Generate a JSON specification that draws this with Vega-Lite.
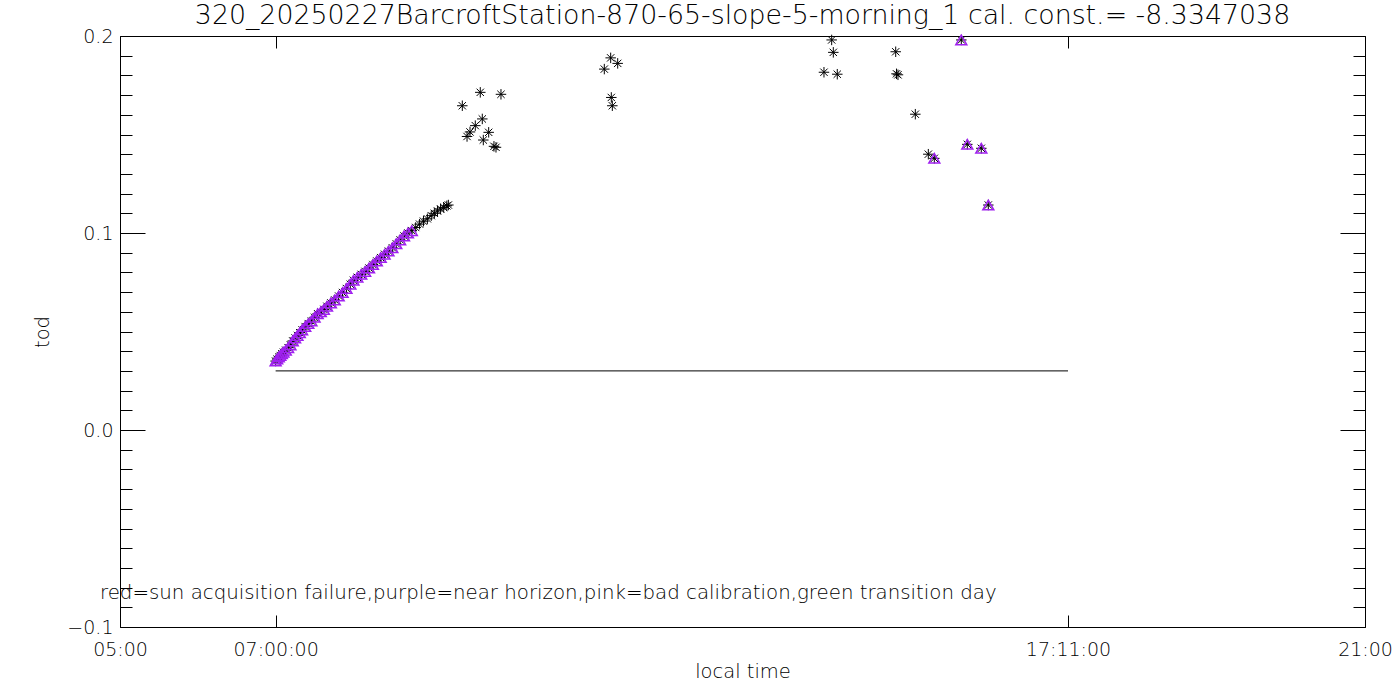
{
  "$schema": "https://vega.github.io/schema/vega-lite/v6.json",
  "width": 1245,
  "height": 591,
  "autosize": {"type": "none"},
  "padding": {"left": 120, "top": 36, "right": 35, "bottom": 73},
  "background": "white",
  "data": {"values": [{}]},
  "config": {
    "view": {"stroke": "black", "strokeWidth": 1},
    "font": "DejaVu Sans",
    "axis": {"domain": false, "grid": false, "tickColor": "black", "tickWidth": 1, "labelColor": "black", "titleColor": "black", "labelFont": "DejaVu Sans", "titleFont": "DejaVu Sans", "labelFontSize": 19, "titleFontSize": 19.5, "titleFontWeight": 200, "labelFontWeight": 200, "labelFlush": false}
  },
  "title": {"text": "320_20250227BarcroftStation-870-65-slope-5-morning_1 cal. const.= -8.3347038", "fontSize": 26.8, "fontWeight": 200, "color": "black", "font": "DejaVu Sans", "offset": -3, "anchor": "middle"},
  "datasets": {
    "pts": [
      {"hour": 7.00, "tod": 0.0350, "flag": "near horizon"},
      {"hour": 7.02, "tod": 0.0360, "flag": "near horizon"},
      {"hour": 7.04, "tod": 0.0370, "flag": "near horizon"},
      {"hour": 7.06, "tod": 0.0378, "flag": "near horizon"},
      {"hour": 7.08, "tod": 0.0387, "flag": "near horizon"},
      {"hour": 7.10, "tod": 0.0395, "flag": "near horizon"},
      {"hour": 7.13, "tod": 0.0405, "flag": "near horizon"},
      {"hour": 7.16, "tod": 0.0418, "flag": "near horizon"},
      {"hour": 7.19, "tod": 0.0432, "flag": "near horizon"},
      {"hour": 7.22, "tod": 0.0452, "flag": "near horizon"},
      {"hour": 7.25, "tod": 0.0467, "flag": "near horizon"},
      {"hour": 7.28, "tod": 0.0480, "flag": "near horizon"},
      {"hour": 7.31, "tod": 0.0494, "flag": "near horizon"},
      {"hour": 7.34, "tod": 0.0508, "flag": "near horizon"},
      {"hour": 7.38, "tod": 0.0525, "flag": "near horizon"},
      {"hour": 7.42, "tod": 0.0540, "flag": "near horizon"},
      {"hour": 7.46, "tod": 0.0553, "flag": "near horizon"},
      {"hour": 7.50, "tod": 0.0572, "flag": "near horizon"},
      {"hour": 7.54, "tod": 0.0590, "flag": "near horizon"},
      {"hour": 7.58, "tod": 0.0600, "flag": "near horizon"},
      {"hour": 7.62, "tod": 0.0612, "flag": "near horizon"},
      {"hour": 7.66, "tod": 0.0628, "flag": "near horizon"},
      {"hour": 7.71, "tod": 0.0645, "flag": "near horizon"},
      {"hour": 7.76, "tod": 0.0660, "flag": "near horizon"},
      {"hour": 7.81, "tod": 0.0680, "flag": "near horizon"},
      {"hour": 7.86, "tod": 0.0698, "flag": "near horizon"},
      {"hour": 7.91, "tod": 0.0718, "flag": "near horizon"},
      {"hour": 7.96, "tod": 0.0740, "flag": "near horizon"},
      {"hour": 8.00, "tod": 0.0760, "flag": "near horizon"},
      {"hour": 8.05, "tod": 0.0775, "flag": "near horizon"},
      {"hour": 8.10, "tod": 0.0790, "flag": "near horizon"},
      {"hour": 8.15, "tod": 0.0805, "flag": "near horizon"},
      {"hour": 8.20, "tod": 0.0822, "flag": "near horizon"},
      {"hour": 8.25, "tod": 0.0840, "flag": "near horizon"},
      {"hour": 8.30, "tod": 0.0858, "flag": "near horizon"},
      {"hour": 8.35, "tod": 0.0875, "flag": "near horizon"},
      {"hour": 8.40, "tod": 0.0892, "flag": "near horizon"},
      {"hour": 8.45, "tod": 0.0908, "flag": "near horizon"},
      {"hour": 8.50, "tod": 0.0925, "flag": "near horizon"},
      {"hour": 8.55, "tod": 0.0945, "flag": "near horizon"},
      {"hour": 8.60, "tod": 0.0965, "flag": "near horizon"},
      {"hour": 8.65, "tod": 0.0985, "flag": "near horizon"},
      {"hour": 8.70, "tod": 0.1000, "flag": "near horizon"},
      {"hour": 8.75, "tod": 0.1012, "flag": "near horizon"},
      {"hour": 8.80, "tod": 0.1028, "flag": "none"},
      {"hour": 8.85, "tod": 0.1045, "flag": "none"},
      {"hour": 8.90, "tod": 0.1060, "flag": "none"},
      {"hour": 8.95, "tod": 0.1072, "flag": "none"},
      {"hour": 9.00, "tod": 0.1088, "flag": "none"},
      {"hour": 9.04, "tod": 0.1100, "flag": "none"},
      {"hour": 9.08, "tod": 0.1112, "flag": "none"},
      {"hour": 9.12, "tod": 0.1122, "flag": "none"},
      {"hour": 9.16, "tod": 0.1130, "flag": "none"},
      {"hour": 9.20, "tod": 0.1138, "flag": "none"},
      {"hour": 9.22, "tod": 0.1142, "flag": "none"},
      {"hour": 9.399, "tod": 0.1646, "flag": "none"},
      {"hour": 9.46, "tod": 0.1490, "flag": "none"},
      {"hour": 9.498, "tod": 0.1513, "flag": "none"},
      {"hour": 9.566, "tod": 0.1545, "flag": "none"},
      {"hour": 9.630, "tod": 0.1714, "flag": "none"},
      {"hour": 9.656, "tod": 0.1579, "flag": "none"},
      {"hour": 9.669, "tod": 0.1472, "flag": "none"},
      {"hour": 9.738, "tod": 0.1511, "flag": "none"},
      {"hour": 9.806, "tod": 0.1440, "flag": "none"},
      {"hour": 9.832, "tod": 0.1435, "flag": "none"},
      {"hour": 9.896, "tod": 0.1704, "flag": "none"},
      {"hour": 11.224, "tod": 0.1832, "flag": "none"},
      {"hour": 11.306, "tod": 0.1889, "flag": "none"},
      {"hour": 11.396, "tod": 0.1861, "flag": "none"},
      {"hour": 11.314, "tod": 0.1688, "flag": "none"},
      {"hour": 11.327, "tod": 0.1646, "flag": "none"},
      {"hour": 14.047, "tod": 0.1816, "flag": "none"},
      {"hour": 14.146, "tod": 0.1980, "flag": "none"},
      {"hour": 14.167, "tod": 0.1917, "flag": "none"},
      {"hour": 14.218, "tod": 0.1806, "flag": "none"},
      {"hour": 14.969, "tod": 0.1920, "flag": "none"},
      {"hour": 14.979, "tod": 0.1808, "flag": "none"},
      {"hour": 14.998, "tod": 0.1803, "flag": "none"},
      {"hour": 15.221, "tod": 0.1603, "flag": "none"},
      {"hour": 15.388, "tod": 0.1400, "flag": "none"},
      {"hour": 15.465, "tod": 0.1379, "flag": "near horizon"},
      {"hour": 15.812, "tod": 0.1980, "flag": "near horizon"},
      {"hour": 15.889, "tod": 0.1450, "flag": "near horizon"},
      {"hour": 16.069, "tod": 0.1430, "flag": "near horizon"},
      {"hour": 16.159, "tod": 0.1142, "flag": "near horizon"}
    ]
  },
  "layer": [
    {
      "mark": {"type": "rule", "color": "black", "strokeWidth": 1},
      "encoding": {
        "x": {"datum": 7.0, "type": "quantitative", "scale": {"domain": [5, 21], "nice": false, "zero": false},
          "axis": {"orient": "bottom", "values": [5, 7, 17.18333, 21], "tickSize": -12, "labelPadding": 25,
            "labelExpr": "datum.value == 5 ? '05:00' : datum.value == 7 ? '07:00:00' : datum.value == 21 ? '21:00' : '17:11:00'",
            "title": "local time", "titlePadding": 3}},
        "x2": {"datum": 17.18333},
        "y": {"datum": 0.03, "type": "quantitative", "scale": {"domain": [-0.1, 0.2], "nice": false, "zero": false},
          "axis": {"orient": "left", "values": [-0.1, 0.0, 0.1, 0.2], "tickSize": -25, "labelPadding": 32, "format": ".1f", "title": "tod", "titlePadding": 14}}
      }
    },
    {
      "mark": {"type": "rule", "opacity": 0},
      "encoding": {
        "x": {"datum": 7.0, "type": "quantitative", "axis": {"orient": "top", "values": [5, 7, 17.18333, 21], "tickSize": -12, "labels": false, "title": null}},
        "y": {"datum": 0.03, "type": "quantitative", "axis": {"orient": "right", "values": [-0.1, 0.0, 0.1, 0.2], "tickSize": -25, "labels": false, "title": null}}
      }
    },
    {
      "mark": {"type": "rule", "opacity": 0},
      "encoding": {
        "y": {"datum": 0.03, "type": "quantitative", "axis": {"orient": "left", "values": [-0.09, -0.08, -0.07, -0.06, -0.05, -0.04, -0.03, -0.02, -0.01, 0.01, 0.02, 0.03, 0.04, 0.05, 0.06, 0.07, 0.08, 0.09, 0.11, 0.12, 0.13, 0.14, 0.15, 0.16, 0.17, 0.18, 0.19], "tickSize": -12, "labels": false, "title": null}}
      }
    },
    {
      "mark": {"type": "rule", "opacity": 0},
      "encoding": {
        "y": {"datum": 0.03, "type": "quantitative", "axis": {"orient": "right", "values": [-0.09, -0.08, -0.07, -0.06, -0.05, -0.04, -0.03, -0.02, -0.01, 0.01, 0.02, 0.03, 0.04, 0.05, 0.06, 0.07, 0.08, 0.09, 0.11, 0.12, 0.13, 0.14, 0.15, 0.16, 0.17, 0.18, 0.19], "tickSize": -12, "labels": false, "title": null}}
      }
    },
    {
      "data": {"name": "pts"},
      "mark": {"type": "point", "shape": "M-1,0L1,0M0,-1L0,1M-0.7,-0.7L0.7,0.7M-0.7,0.7L0.7,-0.7", "filled": false, "stroke": "black", "strokeWidth": 1, "size": 110, "opacity": 1},
      "encoding": {
        "x": {"field": "hour", "type": "quantitative", "axis": null},
        "y": {"field": "tod", "type": "quantitative", "axis": null}
      }
    },
    {
      "data": {"name": "pts"},
      "transform": [{"filter": "datum.flag == 'near horizon'"}],
      "mark": {"type": "point", "shape": "triangle-up", "filled": false, "stroke": "#a020f0", "strokeWidth": 1.5, "size": 120, "opacity": 1},
      "encoding": {
        "x": {"field": "hour", "type": "quantitative", "axis": null},
        "y": {"field": "tod", "type": "quantitative", "axis": null}
      }
    },
    {
      "mark": {"type": "text", "align": "left", "baseline": "middle", "fontSize": 19.8, "fontWeight": 200, "color": "black", "font": "DejaVu Sans", "clip": false},
      "encoding": {
        "x": {"datum": 4.743, "type": "quantitative", "axis": null},
        "y": {"datum": -0.0827, "type": "quantitative", "axis": null},
        "text": {"value": "red=sun acquisition failure,purple=near horizon,pink=bad calibration,green transition day"}
      }
    }
  ]
}
